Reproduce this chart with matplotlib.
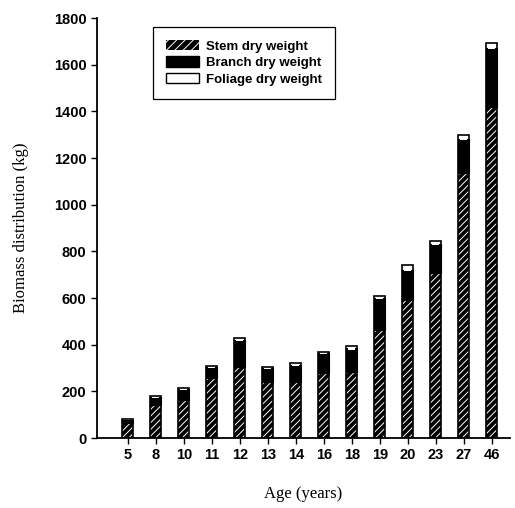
import matplotlib
matplotlib.use("Agg")
import matplotlib.pyplot as plt
import numpy as np
from matplotlib.patches import Patch

ages = ["5", "8", "10", "11", "12", "13", "14", "16", "18", "19", "20", "23", "27", "46"]
stem = [65, 140, 165, 257, 304, 240, 240, 280, 283, 463, 591, 707, 1136, 1419]
branch = [13, 36, 46, 48, 118, 60, 74, 84, 102, 137, 131, 126, 146, 254]
foliage = [2, 4, 4, 5, 8, 5, 6, 6, 10, 10, 18, 12, 18, 22]

plt.rcParams['hatch.linewidth'] = 0.7

fig = plt.figure(figsize=(5.15, 5.08), dpi=100)
ax = fig.add_axes([97/515, 1 - 438/508, 413/515, 420/508])

x = np.arange(len(ages))
w = 0.4
stem_a = np.array(stem)
branch_a = np.array(branch)
fol_a = np.array(foliage)

ax.bar(x, stem_a, w, color='black', edgecolor='white', hatch='/////', linewidth=0, zorder=2)
ax.bar(x, branch_a, w, bottom=stem_a, color='black', edgecolor='black', linewidth=0.8, zorder=2)
ax.bar(x, fol_a, w * 0.6, bottom=stem_a + branch_a - 6, color='white',
       edgecolor='black', linewidth=0, zorder=3)
# black outline around the whole stack
ax.bar(x, stem_a + branch_a + fol_a, w, color='none', edgecolor='black', linewidth=1.2, zorder=4)

ax.set_xlim(-1.1, 13.65)
ax.set_ylim(0, 1800)
ax.set_yticks(range(0, 1801, 200))
ax.set_xticks(x)
ax.set_xticklabels(ages)
ax.spines['top'].set_visible(False)
ax.spines['right'].set_visible(False)
ax.spines['left'].set_linewidth(1.3)
ax.spines['bottom'].set_linewidth(1.3)
ax.tick_params(direction='out', length=4, width=1, labelsize=10.5)
for lab in ax.get_xticklabels() + ax.get_yticklabels():
    lab.set_fontfamily('Liberation Sans')
    lab.set_fontweight('bold')

ax.set_ylabel("Biomass distribution (kg)", fontfamily='Liberation Serif', fontsize=12, labelpad=18)
ax.set_xlabel("Age (years)", fontfamily='Liberation Serif', fontsize=12, labelpad=17)

handles = [
    Patch(facecolor='black', edgecolor='white', hatch='////', linewidth=0, label='Stem dry weight'),
    Patch(facecolor='black', edgecolor='black', label='Branch dry weight'),
    Patch(facecolor='white', edgecolor='black', linewidth=1, label='Foliage dry weight'),
]
leg = ax.legend(handles=handles, loc='upper left', bbox_to_anchor=(0.12, 0.995),
                frameon=True, fancybox=False, edgecolor='black', framealpha=1,
                prop={'family': 'Liberation Sans', 'weight': 'bold', 'size': 9.5},
                handlelength=2.5, handleheight=0.8, borderpad=1.0, labelspacing=0.3,
                handletextpad=0.5)
leg.get_frame().set_linewidth(0.9)

fig.savefig("out.png", dpi=100)
